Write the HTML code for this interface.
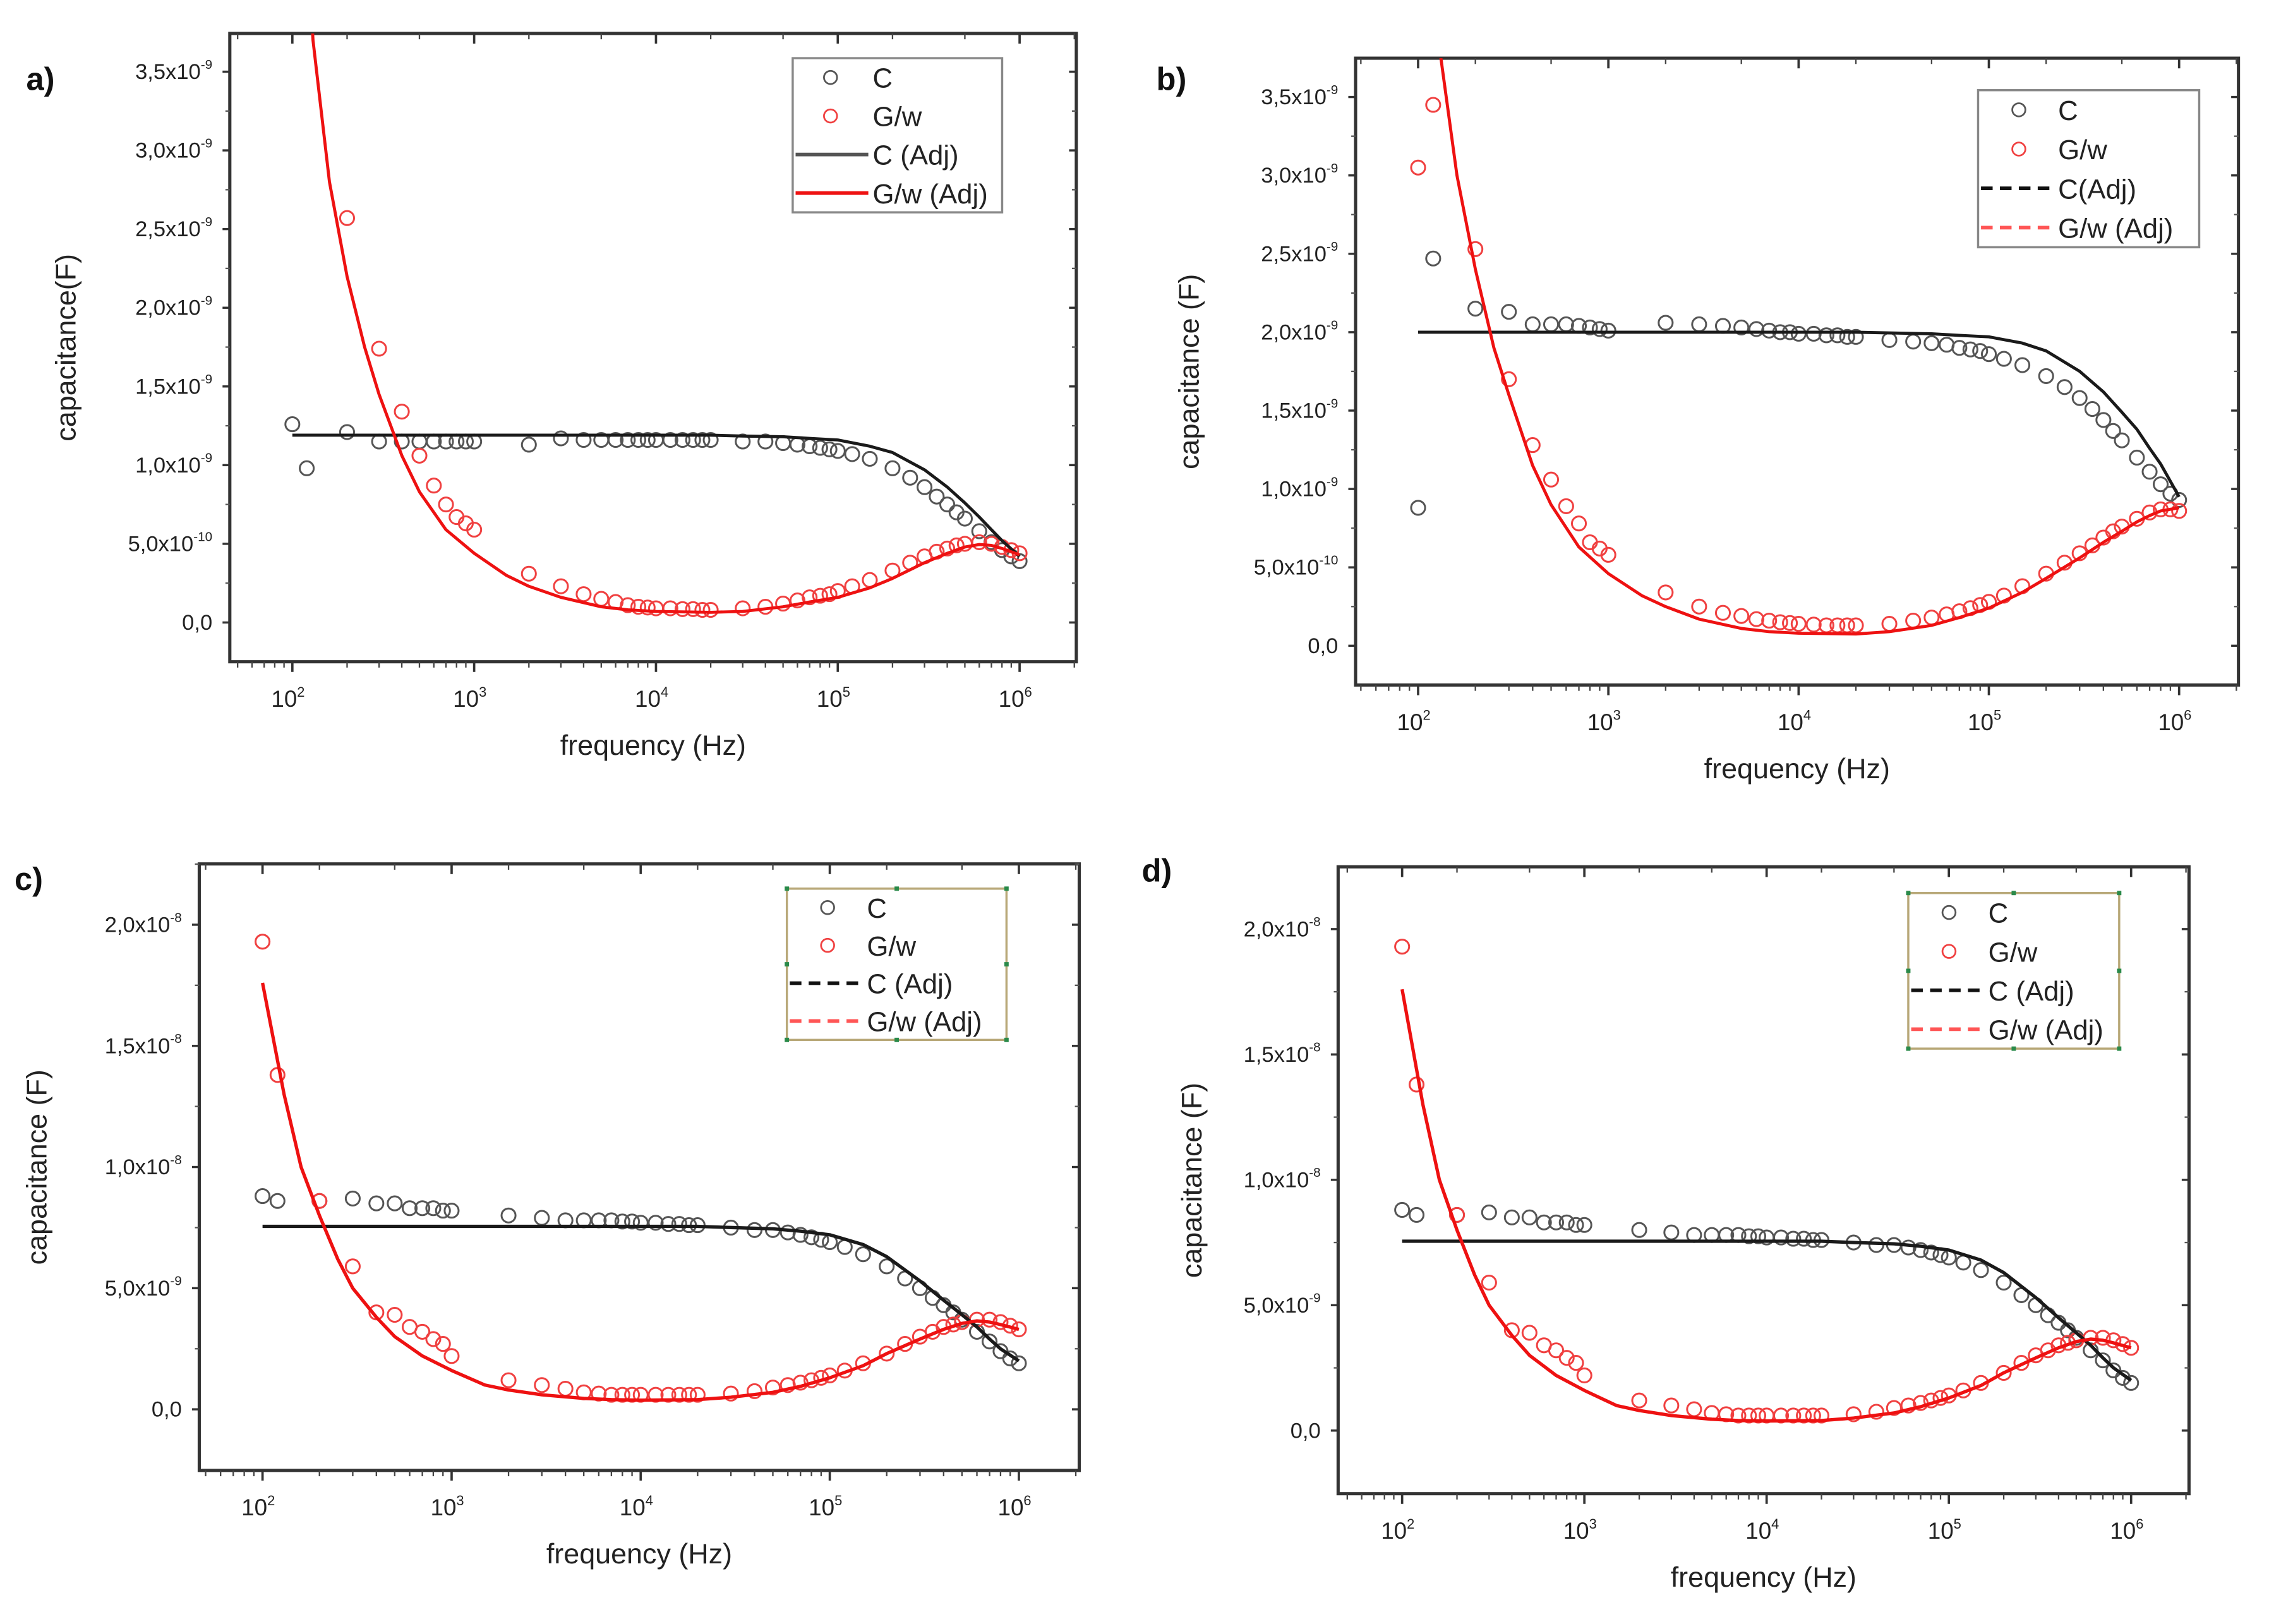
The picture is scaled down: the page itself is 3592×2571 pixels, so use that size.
<!DOCTYPE html>
<html><head><meta charset="utf-8"><style>
html,body{margin:0;padding:0;background:#fff}
svg{display:block}
text{font-family:"Liberation Sans",sans-serif}
</style></head><body>
<svg id="fig" width="3592" height="2571" viewBox="0 0 1560 1116.6" preserveAspectRatio="none" xmlns="http://www.w3.org/2000/svg"></svg>
<script>
// ---- data ----
const freqs = [100,120,200,300,400,500,600,700,800,900,1000,2000,3000,4000,5000,6000,7000,8000,9000,10000,12000,14000,16000,18000,20000,30000,40000,50000,60000,70000,80000,90000,100000,120000,150000,200000,250000,300000,350000,400000,450000,500000,600000,700000,800000,900000,1000000];
const fitFreqs = [100,130,160,200,250,300,400,500,700,1000,1500,2000,3000,5000,7000,10000,20000,30000,50000,70000,100000,150000,200000,300000,400000,500000,600000,700000,800000,1000000];
// panel a (x1e-10 F)
const aC = [12.6,9.8,12.1,11.5,11.5,11.5,11.5,11.5,11.5,11.5,11.5,11.3,11.7,11.6,11.6,11.6,11.6,11.6,11.6,11.6,11.6,11.6,11.6,11.6,11.6,11.5,11.5,11.4,11.3,11.2,11.1,11.0,10.9,10.7,10.4,9.8,9.2,8.6,8.0,7.5,7.0,6.6,5.8,5.1,4.6,4.2,3.9];
const aG = [60,45,25.7,17.4,13.4,10.6,8.7,7.5,6.7,6.3,5.9,3.1,2.3,1.8,1.5,1.3,1.1,1.0,0.95,0.9,0.9,0.85,0.85,0.8,0.8,0.9,1.0,1.2,1.4,1.6,1.7,1.8,2.0,2.3,2.7,3.3,3.8,4.2,4.5,4.7,4.9,5.0,5.1,5.0,4.8,4.6,4.4];
const aCfit = [11.9,11.9,11.9,11.9,11.9,11.9,11.9,11.9,11.9,11.9,11.9,11.9,11.9,11.9,11.9,11.9,11.9,11.85,11.8,11.7,11.6,11.2,10.8,9.7,8.6,7.6,6.7,5.9,5.2,4.2];
const aGfit = [60,37,28,22,17.5,14.5,10.6,8.3,5.9,4.4,3.0,2.3,1.6,1.0,0.8,0.7,0.65,0.7,1.0,1.3,1.6,2.2,2.8,3.8,4.4,4.8,4.95,4.9,4.7,4.3];
// panel b (x1e-10 F)
const bC = [8.8,24.7,21.5,21.3,20.5,20.5,20.5,20.4,20.3,20.2,20.1,20.6,20.5,20.4,20.3,20.2,20.1,20.0,20.0,19.9,19.9,19.8,19.8,19.7,19.7,19.5,19.4,19.3,19.2,19.0,18.9,18.8,18.6,18.3,17.9,17.2,16.5,15.8,15.1,14.4,13.7,13.1,12.0,11.1,10.3,9.7,9.3];
const bG = [30.5,34.5,25.3,17.0,12.8,10.6,8.9,7.8,6.6,6.2,5.8,3.4,2.5,2.1,1.9,1.7,1.6,1.5,1.45,1.4,1.35,1.3,1.3,1.3,1.3,1.4,1.6,1.8,2.0,2.2,2.4,2.6,2.8,3.2,3.8,4.6,5.3,5.9,6.4,6.9,7.3,7.6,8.1,8.5,8.7,8.7,8.6];
const bCfit = [20.0,20.0,20.0,20.0,20.0,20.0,20.0,20.0,20.0,20.0,20.0,20.0,20.0,20.0,20.0,20.0,20.0,19.95,19.9,19.8,19.7,19.3,18.8,17.5,16.2,14.9,13.8,12.6,11.6,9.5];
const bGfit = [55,38,30,24,19,16,11.5,9.0,6.3,4.6,3.2,2.5,1.7,1.1,0.9,0.8,0.75,0.9,1.3,1.8,2.4,3.4,4.3,5.6,6.6,7.3,7.9,8.3,8.6,8.8];
// panel c / d (x1e-9 F)
const cC = [8.8,8.6,8.6,8.7,8.5,8.5,8.3,8.3,8.3,8.2,8.2,8.0,7.9,7.8,7.8,7.8,7.8,7.75,7.75,7.7,7.7,7.65,7.65,7.6,7.6,7.5,7.4,7.4,7.3,7.2,7.1,7.0,6.9,6.7,6.4,5.9,5.4,5.0,4.6,4.3,4.0,3.7,3.2,2.8,2.4,2.1,1.9];
const cG = [19.3,13.8,8.6,5.9,4.0,3.9,3.4,3.2,2.9,2.7,2.2,1.2,1.0,0.85,0.7,0.65,0.6,0.6,0.6,0.6,0.6,0.6,0.6,0.6,0.6,0.65,0.75,0.9,1.0,1.1,1.2,1.3,1.4,1.6,1.9,2.3,2.7,3.0,3.2,3.4,3.5,3.6,3.7,3.7,3.6,3.45,3.3];
const cCfit = [7.55,7.55,7.55,7.55,7.55,7.55,7.55,7.55,7.55,7.55,7.55,7.55,7.55,7.55,7.55,7.55,7.55,7.5,7.45,7.35,7.2,6.8,6.3,5.3,4.5,3.9,3.4,2.9,2.5,2.0];
const cGfit = [17.6,13,10,8.0,6.2,5.0,3.8,3.0,2.2,1.6,1.0,0.8,0.6,0.45,0.4,0.38,0.4,0.5,0.7,0.95,1.3,1.8,2.3,2.9,3.3,3.55,3.65,3.6,3.5,3.3];
const yTicksA = ["0,0","5,0x10","1,0x10","1,5x10","2,0x10","2,5x10","3,0x10","3,5x10"];
const yExpA = ["","-10","-9","-9","-9","-9","-9","-9"];
const yTicksC = ["0,0","5,0x10","1,0x10","1,5x10","2,0x10"];
const yExpC = ["","-9","-8","-8","-8"];
const xDecades = [2,3,4,5,6];

const NS="http://www.w3.org/2000/svg";
const svg=document.getElementById('fig');
function el(tag,attrs,parent){const e=document.createElementNS(NS,tag);for(const k in attrs)e.setAttribute(k,attrs[k]);(parent||svg).appendChild(e);return e;}

const panels=[
 {id:'a',L:158,R:740,T:23,B:455,x2:201,dec:125,y0:428,yStep:54.1,unit:5,ticks:yTicksA,exps:yExpA,C:aC,G:aG,Cf:aCfit,Gf:aGfit,leg:[545,40,689,146],legDash:false,legFrame:'#888',lab:[18,62],title:'capacitance(F)',titleX:52,sp:2.1},
 {id:'b',L:932,R:1539,T:40,B:471,x2:975,dec:130.8,y0:444,yStep:53.9,unit:5,ticks:yTicksA,exps:yExpA,C:bC,G:bG,Cf:bCfit,Gf:bGfit,leg:[1360,62,1512,170],legDash:true,legFrame:'#888',lab:[795,62],title:'capacitance (F)',titleX:824,sp:2.1},
 {id:'c',L:137,R:742,T:594,B:1011,x2:180.5,dec:130,y0:969,yStep:83.3,unit:5,ticks:yTicksC,exps:yExpC,C:cC,G:cG,Cf:cCfit,Gf:cGfit,leg:[541,611,692,715],legDash:true,legFrame:'#b8a878',lab:[10,612],title:'capacitance (F)',titleX:32,sp:2.3},
 {id:'d',L:920,R:1505,T:596,B:1027,x2:964,dec:125.3,y0:983.6,yStep:86.2,unit:5,ticks:yTicksC,exps:yExpC,C:cC,G:cG,Cf:cCfit,Gf:cGfit,leg:[1312,614,1457,721],legDash:true,legFrame:'#b8a878',lab:[785,606],title:'capacitance (F)',titleX:826,sp:2.3}
];

panels.forEach(p=>{
 const g=el('g',{});
 
 
 const xs=f=>p.x2+(Math.log10(f)-2)*p.dec;
 const ys=v=>p.y0-v/p.unit*p.yStep;
 const lab=el('text',{x:p.lab[0],y:p.lab[1],'font-size':22,'font-weight':'bold',fill:'#111'},g);
 lab.textContent=p.id+')';
 
 
 const cp=el('clipPath',{id:'clip'+p.id},g);
 el('rect',{x:p.L,y:p.T,width:p.R-p.L,height:p.B-p.T},cp);
 const fr=el('rect',{x:p.L,y:p.T,width:p.R-p.L,height:p.B-p.T,fill:'none',stroke:'#333','stroke-width':2.2},g);
 
 
 p.ticks.forEach((t,i)=>{
  const y=ys(i*p.unit);
  el('line',{x1:p.L,x2:p.L-5,y1:y,y2:y,stroke:'#333','stroke-width':1.5},g);
  el('line',{x1:p.R,x2:p.R-5,y1:y,y2:y,stroke:'#333','stroke-width':1.5},g);
  const ym=ys(i*p.unit+p.unit/2);
  if(ym>p.T){el('line',{x1:p.L,x2:p.L-3,y1:ym,y2:ym,stroke:'#555','stroke-width':1},g);el('line',{x1:p.R,x2:p.R-3,y1:ym,y2:ym,stroke:'#555','stroke-width':1},g);}
  const tx=el('text',{x:p.L-12,y:y+5,'font-size':15,'text-anchor':'end',fill:'#222'},g);
  tx.textContent=t;
  if(p.exps[i]){const s=el('tspan',{dy:-7,'font-size':9},tx);s.textContent=p.exps[i];}
  
  
 });
 xDecades.forEach(d=>{
  const x=xs(Math.pow(10,d));
  el('line',{x1:x,x2:x,y1:p.B,y2:p.B+7,stroke:'#333','stroke-width':1.6},g);
  el('line',{x1:x,x2:x,y1:p.T,y2:p.T+7,stroke:'#333','stroke-width':1.6},g);
  const tx=el('text',{x:x-3,y:p.B+31,'font-size':16,'text-anchor':'middle',fill:'#222'},g);
  tx.textContent='10';
  const s=el('tspan',{dy:-7,'font-size':9.5},tx);s.textContent=String(d);
  
  
 });
 for(let d=1;d<=7;d++){for(let m=2;m<=9;m++){
   const x=xs(m*Math.pow(10,d));
   if(x<=p.L||x>=p.R)continue;
   el('line',{x1:x,x2:x,y1:p.B,y2:p.B+4,stroke:'#444','stroke-width':1},g);
   if(m==2||m==5) el('line',{x1:x,x2:x,y1:p.T,y2:p.T+4,stroke:'#444','stroke-width':1},g);
 }}
 const xt=el('text',{x:(p.L+p.R)/2,y:p.B+64,'font-size':19.5,'text-anchor':'middle',fill:'#222'},g);
 xt.textContent='frequency (Hz)';
 
 
 const ymid=(p.T+p.B)/2;
 const yt=el('text',{x:p.titleX,y:ymid,'font-size':19.5,'text-anchor':'middle',fill:'#222',transform:`rotate(-90 ${p.titleX} ${ymid})`},g);
 yt.textContent=p.title;
 
 
 const pg=el('g',{'clip-path':`url(#clip${p.id})`},g);
 const line=(arr,col,name)=>{
  const d=fitFreqs.map((f,i)=>(i?'L':'M')+xs(f).toFixed(1)+','+ys(arr[i]).toFixed(1)).join(' ');
  const pa=el('path',{d:d,fill:'none',stroke:col,'stroke-width':p.sp,'stroke-linejoin':'round'},pg);
  
  
 };
 const pts=(arr,col,name)=>{
  arr.forEach((v,i)=>{
   const c=el('circle',{cx:xs(freqs[i]),cy:ys(v),r:4.8,fill:'none',stroke:col,'stroke-width':1.3},pg);
   
   
  });
 };
 pts(p.C,'#555','c-point');
 pts(p.G,'#f04040','gw-point');
 line(p.Cf,'#1a1a1a','c-fit-line');
 line(p.Gf,'#ee1111','gw-fit-line');
 const [lx1,ly1,lx2,ly2]=p.leg;
 const lg=el('g',{},g);
 
 
 el('rect',{x:lx1,y:ly1,width:lx2-lx1,height:ly2-ly1,fill:'#fff',stroke:p.legFrame,'stroke-width':1.5},lg);
 if(p.legFrame!=='#888'){[[lx1,ly1],[lx2,ly1],[lx1,ly2],[lx2,ly2],[(lx1+lx2)/2,ly1],[(lx1+lx2)/2,ly2],[lx1,(ly1+ly2)/2],[lx2,(ly1+ly2)/2]].forEach(q=>el('rect',{x:q[0]-1.5,y:q[1]-1.5,width:3,height:3,fill:'#2a8a4a'},lg));}
 const rowH=(ly2-ly1)/4;
 const labels=p.id==='b'?['C','G/w','C(Adj)','G/w (Adj)']:['C','G/w','C (Adj)','G/w (Adj)'];
 labels.forEach((t,i)=>{
  const cy=ly1+rowH*(i+0.5);
  const e=el('g',{},lg);
  
  
  if(i<2){el('circle',{cx:lx1+(p.id==='a'?26:28),cy:cy,r:4.5,fill:'none',stroke:i?'#f04040':'#555','stroke-width':1.2},e);}
  else{
   const col=i==2?(p.id==='a'?'#555':'#111'):(p.id==='a'?'#ee1111':'#ff5555');
   const a={x1:lx1+2,x2:lx1+52,y1:cy,y2:cy,stroke:col,'stroke-width':2.5};
   if(p.legDash)a['stroke-dasharray']='8,5';
   el('line',a,e);
  }
  const tx=el('text',{x:lx1+55,y:cy+7,'font-size':19,fill:'#222'},e);
  tx.textContent=t;
 });
});
</script>
</body></html>
